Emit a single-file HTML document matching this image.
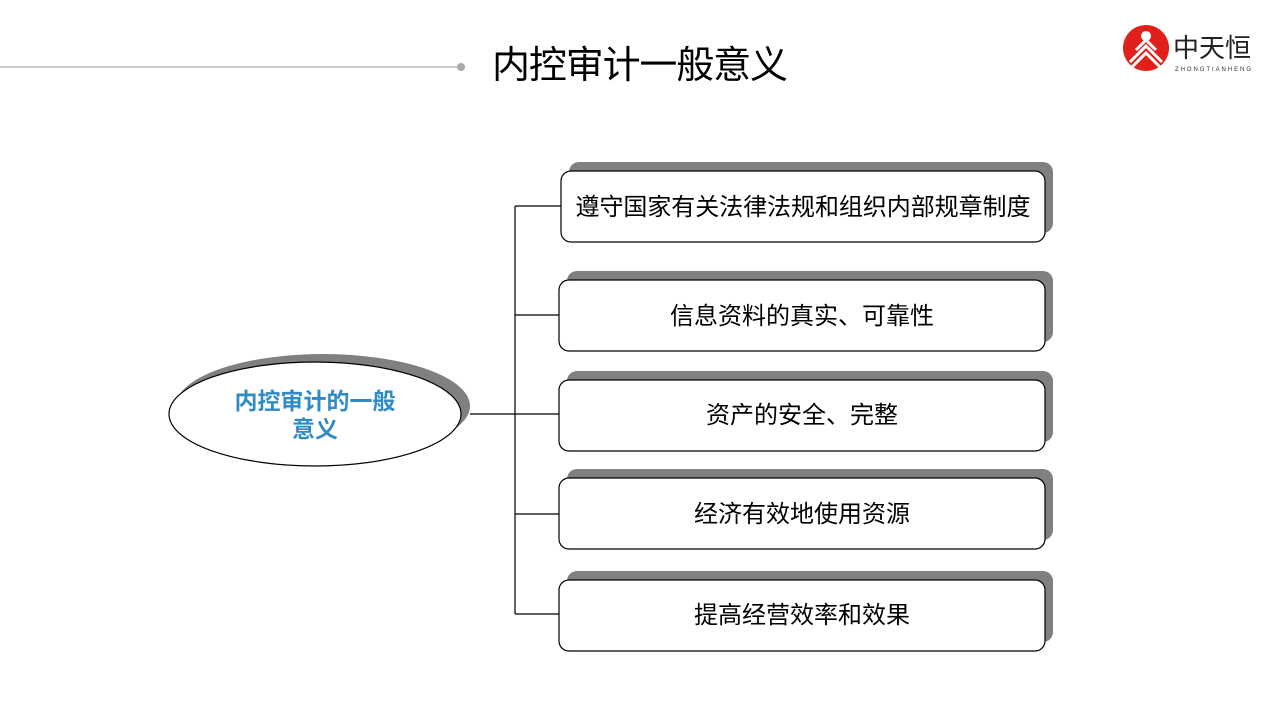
<!DOCTYPE html>
<html><head><meta charset="utf-8"><style>
body{margin:0;width:1280px;height:720px;background:#fff;overflow:hidden}
svg text{font-family:"Liberation Sans","Noto Sans CJK SC",sans-serif}
</style></head><body>
<svg width="1280" height="720" viewBox="0 0 1280 720" xmlns="http://www.w3.org/2000/svg">
<line x1="0" y1="67" x2="460" y2="67" stroke="#bbb" stroke-width="1.5"/>
<circle cx="461" cy="67" r="4" fill="#aaa"/>
<text x="492" y="78" font-size="38" textLength="296" lengthAdjust="spacing" fill="#000">内控审计一般意义</text>
<!-- logo -->
<circle cx="1146" cy="48" r="23" fill="#e0201b"/>
<g stroke="#fff" stroke-width="3" fill="none">
<path d="M1130 62 L1146 46 L1162 62"/>
<path d="M1130 69 L1146 53 L1162 69"/>
<path d="M1136 50 L1146 40 L1156 50"/>
</g>
<circle cx="1146" cy="36" r="5" fill="#fff"/>
<text x="1173" y="57" font-size="26" textLength="78" fill="#222">中天恒</text>
<text x="1175" y="71" font-size="6" textLength="76" fill="#333">ZHONGTIANHENG</text>
<!-- connectors -->
<g stroke="#000" stroke-width="1.2" fill="none">
<line x1="515" y1="206" x2="515" y2="614"/>
<line x1="470" y1="414" x2="560" y2="414"/>
<line x1="515" y1="206" x2="561" y2="206"/>
<line x1="515" y1="315" x2="560" y2="315"/>
<line x1="515" y1="514" x2="560" y2="514"/>
<line x1="515" y1="614" x2="560" y2="614"/>
</g>
<!-- ellipse -->
<ellipse cx="323" cy="406" rx="147" ry="52" fill="#808080"/>
<ellipse cx="315" cy="414" rx="146" ry="52" fill="#fff" stroke="#000" stroke-width="1.2"/>
<text x="315" y="409" font-size="23" font-weight="bold" fill="#2e8bc6" text-anchor="middle">内控审计的一般</text>
<text x="315" y="437" font-size="23" font-weight="bold" fill="#2e8bc6" text-anchor="middle">意义</text>
<!-- boxes -->
<g>
<rect x="569" y="162" width="484" height="71" rx="10" fill="#808080"/>
<rect x="561" y="171" width="484" height="71" rx="10" fill="#fff" stroke="#000" stroke-width="1.2"/>
<text x="803" y="215" font-size="24" text-anchor="middle" textLength="455">遵守国家有关法律法规和组织内部规章制度</text>

<rect x="567" y="271" width="486" height="71" rx="10" fill="#808080"/>
<rect x="559" y="280" width="486" height="71" rx="10" fill="#fff" stroke="#000" stroke-width="1.2"/>
<text x="802" y="324" font-size="24" text-anchor="middle">信息资料的真实、可靠性</text>

<rect x="567" y="371" width="486" height="71" rx="10" fill="#808080"/>
<rect x="559" y="380" width="486" height="71" rx="10" fill="#fff" stroke="#000" stroke-width="1.2"/>
<text x="802" y="423" font-size="24" text-anchor="middle">资产的安全、完整</text>

<rect x="567" y="469" width="486" height="71" rx="10" fill="#808080"/>
<rect x="559" y="478" width="486" height="71" rx="10" fill="#fff" stroke="#000" stroke-width="1.2"/>
<text x="802" y="522" font-size="24" text-anchor="middle">经济有效地使用资源</text>

<rect x="567" y="571" width="486" height="71" rx="10" fill="#808080"/>
<rect x="559" y="580" width="486" height="71" rx="10" fill="#fff" stroke="#000" stroke-width="1.2"/>
<text x="802" y="623" font-size="24" text-anchor="middle">提高经营效率和效果</text>
</g>
</svg>
</body></html>
